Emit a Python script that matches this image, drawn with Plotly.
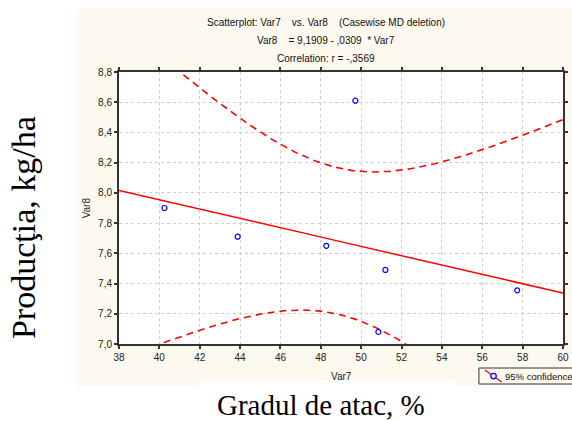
import numpy as np
import plotly.graph_objects as go

# Observations (Var7 = attack degree, Var8 = yield)
var7 = [40.25, 43.88, 48.27, 49.71, 51.20, 50.85, 57.73]
var8 = [7.90, 7.71, 7.65, 8.61, 7.49, 7.08, 7.355]

# Fitted model as printed in the header
intercept = 9.1909
slope = -0.0309
t_975_df5 = 2.5706  # Student t quantile for a 95% band, n - 2 = 5

x_ticks = [38, 40, 42, 44, 46, 48, 50, 52, 54, 56, 58, 60]
y_ticks = [7.0, 7.2, 7.4, 7.6, 7.8, 8.0, 8.2, 8.4, 8.6, 8.8]

# Regression line and 95% confidence band for the mean response
xa = np.asarray(var7)
ya = np.asarray(var8)
n = len(xa)
resid = ya - (intercept + slope * xa)
s = np.sqrt(np.sum(resid ** 2) / (n - 2))
sxx = np.sum((xa - xa.mean()) ** 2)
xg = np.linspace(x_ticks[0], x_ticks[-1], 221)
yg = intercept + slope * xg
half = t_975_df5 * s * np.sqrt(1.0 / n + (xg - xa.mean()) ** 2 / sxx)

RED = "#FF0000"
BLUE = "#0000FF"
CREAM = "#FEF9EE"
AXIS = "#333333"
SANS = "Liberation Sans, Arial, sans-serif"
SERIF = "Liberation Serif, Times New Roman, serif"

fig = go.Figure()
fig.add_trace(go.Scatter(x=xg, y=yg + half, mode="lines",
                         line=dict(color=RED, width=1.6, dash="7px,5px"),
                         hoverinfo="skip"))
fig.add_trace(go.Scatter(x=xg, y=yg - half, mode="lines",
                         line=dict(color=RED, width=1.6, dash="7px,5px"),
                         hoverinfo="skip"))
fig.add_trace(go.Scatter(x=xg, y=yg, mode="lines",
                         line=dict(color=RED, width=1.5), hoverinfo="skip"))
fig.add_trace(go.Scatter(x=var7, y=var8, mode="markers",
                         marker=dict(symbol="circle-open", size=5, color=BLUE,
                                     line=dict(color=BLUE, width=1.2))))

W, H = 572, 421
L, R, T, B = 119, 4, 72, 77
pw, ph = W - L - R, H - T - B


def px(x):
    return (x - L) / pw


def py(y):
    return (H - B - y) / ph


shapes = [
    # cream backdrop of the chart panel
    dict(type="rect", xref="paper", yref="paper", layer="below",
         x0=px(76), x1=px(580), y0=py(386), y1=py(9),
         fillcolor=CREAM, line=dict(width=0)),
    # white plotting area
    dict(type="rect", xref="paper", yref="paper", layer="below",
         x0=0, x1=1, y0=0, y1=1, fillcolor="white", line=dict(width=0)),
    # white strip behind the caption
    dict(type="rect", xref="paper", yref="paper", layer="below",
         x0=px(200), x1=px(460), y0=py(425), y1=py(380),
         fillcolor="white", line=dict(width=0)),
    # legend box
    dict(type="rect", xref="paper", yref="paper",
         x0=px(483), x1=px(590), y0=py(384), y1=py(368),
         fillcolor=CREAM, line=dict(color=AXIS, width=1)),
    dict(type="line", xref="paper", yref="paper",
         x0=px(489), x1=px(506), y0=py(370), y1=py(382),
         line=dict(color=RED, width=1.2)),
    dict(type="circle", xref="paper", yref="paper",
         x0=px(495), x1=px(500.5), y0=py(378.8), y1=py(373.3),
         fillcolor="white", line=dict(color=BLUE, width=1.3)),
]


def label(text, x, y, size, family=SANS, color="#111", angle=0, xanchor="center"):
    return dict(text=text, x=px(x), y=py(y), xref="paper", yref="paper",
                xanchor=xanchor, yanchor="middle", showarrow=False,
                textangle=angle, font=dict(family=family, size=size, color=color))


annotations = [
    label("Scatterplot: Var7    vs. Var8    (Casewise MD deletion)", 328, 23, 10),
    label("Var8    = 9,1909 - ,0309  * Var7", 328, 41, 10),
    label("Correlation: r = -,3569", 328, 59, 10),
    label("Var7", 344, 376, 10, color="#222"),
    label("Var8", 86, 208, 10, color="#222", angle=-90),
    label("95% confidence", 507, 376, 9.5, xanchor="left"),
    label("Gradul de atac, %", 323, 405, 29, family=SERIF, color="black"),
    label("Producţia, kg/ha", 22, 228, 34, family=SERIF, color="black", angle=-90),
]

axis_common = dict(
    showline=True, linecolor=AXIS, linewidth=2, mirror="ticks",
    ticks="outside", ticklen=3, tickwidth=2, tickcolor=AXIS,
    showgrid=True, gridcolor="#CDCDCD", gridwidth=1, griddash="dot",
    zeroline=False, tickfont=dict(family=SANS, size=10, color="#222"),
)

fig.update_layout(
    width=W, height=H,
    margin=dict(l=L, r=R, t=T, b=B, pad=0),
    paper_bgcolor="white", plot_bgcolor="white",
    showlegend=False, separators=", ",
    shapes=shapes, annotations=annotations,
    xaxis=dict(range=[38, 60], tickvals=x_ticks, tickformat="d", **axis_common),
    yaxis=dict(range=[7.0, 8.8], tickvals=y_ticks, tickformat=".1f", **axis_common),
)

fig.write_html("out.html")
